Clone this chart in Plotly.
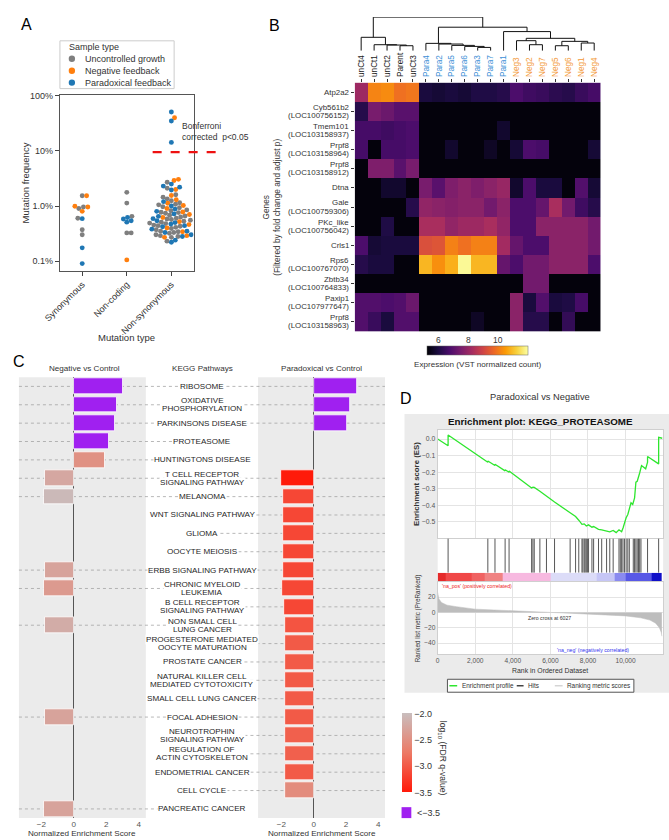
import numpy as np
import plotly.graph_objects as go
from plotly.colors import sample_colorscale

W, H = 669, 840
FONT = "Liberation Sans, Arial, Helvetica, sans-serif"


def px(x):
    return x / W


def py(y):
    return 1 - y / H


# ---------------- Panel A data (mutation frequency, %) ----------------
mutation_types = ["Synonymous", "Non-coding", "Non-synonymous"]
sample_types = ["Uncontrolled growth", "Negative feedback", "Paradoxical feedback"]
sample_colors = ["#7f7f7f", "#ff7f0e", "#1f77b4"]

syn_uncontrolled = [1.54, 0.96, 0.9, 0.6, 0.37, 0.30]
syn_negative = [1.54, 0.99, 0.96, 0.8]
syn_paradoxical = [0.59, 0.174, 0.09]

nc_uncontrolled = [1.77, 1.13, 0.65, 0.325, 0.325]
nc_negative = [0.105]
nc_paradoxical = [0.62, 0.58, 0.54, 0.51]

ns_uncontrolled = [2.7, 2.1, 1.6, 1.45, 1.35, 1.25, 1.15, 1.08, 1.05, 0.97, 0.93, 0.85, 0.82,
                   0.77, 0.76, 0.74, 0.68, 0.66, 0.63, 0.6, 0.58, 0.57, 0.55, 0.53, 0.51, 0.49,
                   0.48, 0.45, 0.44, 0.43, 0.41, 0.39, 0.37, 0.35, 0.34, 0.33, 0.32,
                   0.3, 0.29, 0.28, 0.27, 0.23]
ns_negative = [40, 3.05, 2.9, 2.0, 1.55, 1.3, 1.12, 1.02, 0.9, 0.78, 0.7, 0.62, 0.52, 0.46,
               0.4, 0.34, 0.29, 0.27]
ns_paradoxical = [51, 35, 14.3, 2.5, 2.3, 2.2, 1.95, 1.2, 1.0, 0.88, 0.8, 0.72, 0.65, 0.59,
                  0.54, 0.5, 0.47, 0.44, 0.42, 0.38, 0.35, 0.33, 0.3, 0.28, 0.24, 0.22]

freq_by_type = [
    [syn_uncontrolled, nc_uncontrolled, ns_uncontrolled],
    [syn_negative, nc_negative, ns_negative],
    [syn_paradoxical, nc_paradoxical, ns_paradoxical],
]
bonferroni_threshold = 9.5

# ---------------- Panel B data ----------------
sample_names = ["unCt4", "unCt1", "unCt2", "Parent", "unCt3", "Para4", "Para2", "Para5",
                "Para6", "Para3", "Para7", "Para1", "Neg3", "Neg2", "Neg7", "Neg5", "Neg6",
                "Neg1", "Neg4"]
sample_label_colors = ["#222222"] * 5 + ["#3d8fd6"] * 7 + ["#f39a3a"] * 7
genes = ["Atp2a2", "Cyb561b2<br>(LOC100756152)", "Tmem101<br>(LOC103158937)",
         "Prpf8<br>(LOC103158964)", "Prpf8<br>(LOC103158912)", "Dtna",
         "Gale<br>(LOC100759306)", "PKc_like<br>(LOC100756042)", "Crls1",
         "Rps6<br>(LOC100767070)", "Zbtb34<br>(LOC100764833)", "Paxip1<br>(LOC107977647)",
         "Prpf8<br>(LOC103158963)"]
expression = [
    [8.1, 10.1, 10.2, 9.8, 9.9, 6.0, 5.9, 6.0, 5.9, 6.1, 6.1, 6.2, 6.8, 6.6, 6.5, 6.3, 6.2, 6.5, 6.7],
    [6.2, 7.5, 7.3, 7.0, 7.0, 5.4, 5.4, 5.4, 5.4, 5.4, 5.4, 5.4, 5.4, 5.4, 5.4, 5.4, 5.4, 5.4, 5.4],
    [6.7, 6.7, 6.6, 6.7, 6.8, 5.4, 5.4, 5.4, 5.4, 5.4, 5.4, 5.8, 5.4, 5.4, 5.4, 5.4, 5.4, 5.4, 5.4],
    [6.7, 5.4, 6.7, 6.7, 6.8, 5.4, 5.4, 5.8, 5.4, 5.4, 5.7, 5.4, 5.9, 6.8, 6.7, 5.4, 5.4, 5.4, 5.9],
    [5.4, 7.6, 7.6, 7.0, 7.5, 5.4, 5.4, 5.4, 5.4, 5.4, 5.4, 5.4, 5.4, 5.4, 5.4, 5.4, 5.4, 5.4, 5.4],
    [5.4, 5.4, 5.8, 5.8, 5.4, 7.5, 7.0, 7.6, 7.8, 7.6, 7.8, 8.0, 5.8, 6.8, 6.0, 6.0, 5.4, 6.9, 5.9],
    [5.4, 5.4, 5.4, 5.4, 6.2, 7.9, 7.8, 7.7, 7.8, 7.8, 7.4, 7.8, 6.8, 6.8, 7.2, 8.3, 7.4, 6.6, 6.2],
    [5.4, 5.4, 6.1, 5.4, 5.4, 8.3, 8.3, 7.9, 8.1, 8.1, 8.3, 7.9, 6.8, 6.8, 7.8, 7.8, 7.8, 7.8, 7.4],
    [6.8, 5.9, 6.0, 6.0, 6.0, 9.2, 9.3, 10.05, 9.8, 10.05, 10.05, 8.2, 7.2, 6.8, 6.8, 7.8, 7.8, 7.8, 7.4],
    [6.2, 6.0, 6.0, 5.4, 5.4, 10.8, 10.25, 10.7, 11.8, 10.8, 10.8, 7.2, 6.8, 7.4, 7.4, 7.8, 7.8, 7.8, 6.8],
    [5.4, 5.4, 5.4, 5.4, 5.4, 5.4, 5.4, 5.4, 5.4, 5.4, 5.4, 5.4, 5.4, 7.4, 7.4, 5.4, 5.4, 5.4, 5.4],
    [6.9, 6.9, 6.8, 6.9, 7.3, 5.4, 5.4, 5.4, 5.4, 5.4, 5.4, 5.4, 7.8, 6.0, 6.9, 6.0, 6.1, 6.7, 5.4],
    [6.9, 6.5, 6.0, 6.9, 6.9, 5.4, 5.4, 5.4, 5.4, 5.7, 5.4, 5.4, 7.8, 6.2, 6.2, 5.4, 6.4, 5.4, 5.4],
]
expr_min, expr_max = 5.3, 11.9
expr_ticks = [6, 8, 10]
# hierarchical clustering: [merge height, left, right]
dendro_tree = [100,
               [40, "unCt4", [18, "unCt1", [17, "unCt2", [15, "Parent", "unCt3"]]]],
               [70,
                [22, "Para4", [20, "Para2", [16, "Para5", [13, "Para6", [10, "Para3", "Para7"]]]]],
                [57, "Para1",
                 [37,
                  [30, "Neg3", [18, "Neg2", "Neg7"]],
                  [28, [15, "Neg5", "Neg6"], [23, "Neg1", "Neg4"]]]]]]

# ---------------- Panel C data ----------------
pathways = ["RIBOSOME", "OXIDATIVE<br>PHOSPHORYLATION", "PARKINSONS DISEASE", "PROTEASOME",
            "HUNTINGTONS DISEASE", "T CELL RECEPTOR<br>SIGNALING PATHWAY", "MELANOMA",
            "WNT SIGNALING PATHWAY", "GLIOMA", "OOCYTE MEIOSIS", "ERBB SIGNALING PATHWAY",
            "CHRONIC MYELOID<br>LEUKEMIA", "B CELL RECEPTOR<br>SIGNALING PATHWAY",
            "NON SMALL CELL<br>LUNG CANCER", "PROGESTERONE MEDIATED<br>OOCYTE MATURATION",
            "PROSTATE CANCER", "NATURAL KILLER CELL<br>MEDIATED CYTOTOXICITY",
            "SMALL CELL LUNG CANCER", "FOCAL ADHESION", "NEUROTROPHIN<br>SIGNALING PATHWAY",
            "REGULATION OF<br>ACTIN CYTOSKELETON", "ENDOMETRIAL CANCER", "CELL CYCLE",
            "PANCREATIC CANCER"]
neg_nes = [3.05, 2.64, 2.55, 2.16, 1.9, -1.76, -1.84, None, None, None, -1.8, -1.86, None,
           -1.76, None, None, None, None, -1.8, None, None, None, None, -1.86]
neg_fdr = [-4.0, -4.0, -4.0, -4.0, -2.5, -2.25, -2.05, None, None, None, -2.3, -2.4, None,
           -2.2, None, None, None, None, -2.3, None, None, None, None, -2.3]
para_nes = [2.68, 2.27, 2.1, None, None, -2.0, -1.92, -1.92, -1.92, -1.92, -1.92, -1.95, -1.86,
            -1.8, -1.8, -1.8, -1.8, -1.8, -1.79, -1.8, -1.8, -1.79, -1.8, None]
para_fdr = [-4.0, -4.0, -4.0, None, None, -3.5, -3.15, -3.15, -3.15, -3.15, -3.15, -3.15, -3.15,
            -3.05, -3.0, -3.0, -3.0, -3.0, -3.0, -2.95, -2.95, -3.0, -2.55, None]
fdr_ticks = [-2.0, -2.5, -3.0, -3.5]
fdr_scale = [[0, "#ff1a0a"], [0.5, "#ec7a66"], [1, "#c9bebe"]]
sig_color = "#a020f0"

# ---------------- Panel D data ----------------
es_rank = [0, 555, 555, 2670, 2670, 3050, 3050, 3590, 3590, 3800, 3800, 5000, 5070, 5140,
           5440, 5790, 6220, 7050, 7340, 7510, 7680, 7800, 7910, 8030, 8210, 8300, 8560, 8730,
           8990, 9160, 9340, 9500, 9650, 9790, 9870, 9940, 10030, 10120, 10200, 10290, 10380,
           10480, 10550, 10620, 10750, 10850, 11070, 11170, 11170, 11760, 11760, 11950]
es_score = [0.0, -0.04, 0.025, -0.14, -0.132, -0.16, -0.152, -0.192, -0.185, -0.2, -0.193,
            -0.295, -0.29, -0.292, -0.315, -0.345, -0.38, -0.445, -0.468, -0.49, -0.515,
            -0.512, -0.525, -0.518, -0.532, -0.528, -0.545, -0.548, -0.555, -0.56, -0.552,
            -0.565, -0.548, -0.56, -0.535, -0.505, -0.475, -0.455, -0.415, -0.385, -0.395,
            -0.355, -0.26, -0.255, -0.205, -0.16, -0.18, -0.14, -0.105, -0.15, 0.01, 0.005]
hit_ranks = [555, 2670, 3050, 3590, 3800, 5000, 5070, 5140, 5440, 5790, 6220, 7050, 7340,
             7510, 7680, 7730, 7800, 7850, 7910, 7970, 8030, 8210, 8300, 8560, 8730, 8990,
             9160, 9340, 9650, 9720, 9790, 9860, 9940, 10030, 10120, 10200, 10410, 10480,
             10550, 10620, 10690, 10750, 10820, 11170, 11760]
metric_rank = [0, 60, 200, 500, 1000, 1500, 2000, 3000, 4000, 5000, 6027, 7000, 8000, 9000,
               10000, 10800, 11300, 11600, 11800, 11900, 11930]
metric_value = [26, 18, 13, 9.5, 7.5, 5.5, 4.3, 3.2, 2.4, 1.2, 0, -1, -2, -3, -4.5, -7, -10,
                -14, -20, -26, -31]
strip_edges = [0, 415, 1800, 2490, 3450, 6040, 8470, 9420, 10030, 11410, 11930]
strip_colors = ["#e52a2a", "#f04848", "#f06262", "#f08282", "#f7b9e0", "#dcdcf8", "#c6c6f6",
                "#8a8af0", "#5858e6", "#1010c8"]
gsea_legend = ["Enrichment profile", "Hits", "Ranking metric scores"]
gsea_colors = ["#2ee62e", "#444444", "#d5d5d5"]


# ---------------- helpers ----------------
def swarm_offsets(vals, px_per_x, px_per_dec, d):
    ys = np.log10(np.asarray(vals, float)) * px_per_dec
    order = np.argsort(ys, kind="stable")
    pxs, pys = [], []
    off = np.zeros(len(ys))
    for n, i in enumerate(order):
        y = ys[i]
        k = 0
        found = None
        sign = 1 if n % 2 == 0 else -1
        while found is None:
            cands = [0.0] if k == 0 else [sign * k * 0.25, -sign * k * 0.25]
            for c in cands:
                if all((c - a) ** 2 + (y - b) ** 2 >= d * d for a, b in zip(pxs, pys)):
                    found = c
                    break
            k += 1
        pxs.append(found)
        pys.append(y)
        off[i] = found / px_per_x
    return off


def fdr_color(f):
    if f is None:
        return "rgba(0,0,0,0)"
    if f < -3.5:
        return sig_color
    t = min(max((f + 3.5) / 1.5, 0), 1)
    return sample_colorscale(fdr_scale, [t])[0]


fig = go.Figure()

# ---------------- Panel A ----------------
A_x0, A_x1, A_y0, A_y1 = 45, 182, 91, 268
px_per_x = (A_x1 - A_x0) / 3
px_per_dec = 55.33
pts = {t: ([], []) for t in range(3)}
for c in range(3):
    vals, types = [], []
    for t in range(3):
        vals += freq_by_type[t][c]
        types += [t] * len(freq_by_type[t][c])
    offs = swarm_offsets(vals, px_per_x, px_per_dec, 4.5)
    for v, t, o in zip(vals, types, offs):
        pts[t][0].append(c + o)
        pts[t][1].append(v)
for t in range(3):
    fig.add_trace(go.Scatter(x=pts[t][0], y=pts[t][1], mode="markers", name=sample_types[t],
                             marker=dict(color=sample_colors[t], size=4.9, line=dict(width=0)),
                             xaxis="x", yaxis="y", showlegend=False))

# ---------------- Panel B ----------------
fig.add_trace(go.Heatmap(z=expression, x=list(range(len(sample_names))), y=list(range(len(genes))),
                         colorscale="Inferno", zmin=expr_min, zmax=expr_max, xaxis="x2", yaxis="y2",
                         colorbar=dict(orientation="h", x=px(472.5), xanchor="center", y=py(344),
                                       yanchor="top", len=101, lenmode="pixels", thickness=9,
                                       xpad=0, ypad=0, showticklabels=False, ticks="",
                                       outlinewidth=0.5, outlinecolor="#666")))

leaf_pos = {n: i for i, n in enumerate(sample_names)}
dx, dy = [], []


def walk(node):
    if isinstance(node, str):
        return leaf_pos[node], 0
    h, l, r = node
    xl, hl = walk(l)
    xr, hr = walk(r)
    dx.extend([xl, xl, xr, xr, None])
    dy.extend([hl, h, h, hr, None])
    return (xl + xr) / 2, h


walk(dendro_tree)
fig.add_trace(go.Scatter(x=dx, y=dy, mode="lines", line=dict(color="#111", width=1),
                         xaxis="x3", yaxis="y3", showlegend=False, hoverinfo="skip"))

# ---------------- Panel C ----------------
idx = list(range(len(pathways)))
fig.add_trace(go.Bar(y=idx, x=neg_nes, orientation="h", width=0.86,
                     marker=dict(color=[fdr_color(f) for f in neg_fdr], line=dict(color="white", width=0.8)),
                     xaxis="x4", yaxis="y4", showlegend=False))
fig.add_trace(go.Bar(y=idx, x=para_nes, orientation="h", width=0.86,
                     marker=dict(color=[fdr_color(f) for f in para_fdr], line=dict(color="white", width=0.8)),
                     xaxis="x5", yaxis="y5", showlegend=False))
fig.add_trace(go.Scatter(x=[None], y=[None], mode="markers", showlegend=False, xaxis="x4", yaxis="y4",
                         marker=dict(color=[-3.0], colorscale=fdr_scale, cmin=-3.5, cmax=-2.0,
                                     showscale=True,
                                     colorbar=dict(x=px(395), xanchor="left", y=py(752.5), yanchor="middle",
                                                   len=79, lenmode="pixels", thickness=10, xpad=0, ypad=0,
                                                   outlinewidth=0, ticks="", tickvals=fdr_ticks,
                                                   ticktext=[("%.1f" % v).replace("-", "\u2212") for v in fdr_ticks],
                                                   tickfont=dict(size=9, color="#333")))))

# ---------------- Panel D ----------------
fig.add_trace(go.Scatter(x=metric_rank, y=metric_value, mode="lines", fill="tozeroy",
                         fillcolor="#bdbdbd", line=dict(color="#bdbdbd", width=0.5),
                         xaxis="x9", yaxis="y9", showlegend=False, hoverinfo="skip"))
hx, hy = [], []
for h in hit_ranks:
    hx += [h, h, None]
    hy += [0, 1, None]
fig.add_trace(go.Scatter(x=hx, y=hy, mode="lines", line=dict(color="#444", width=0.9),
                         xaxis="x7", yaxis="y7", showlegend=False, hoverinfo="skip"))
n_strip = len(strip_colors)
fig.add_trace(go.Heatmap(x=strip_edges, y=[0], z=[list(range(n_strip))], zmin=0, zmax=n_strip - 1,
                         colorscale=[[i / (n_strip - 1), c] for i, c in enumerate(strip_colors)],
                         showscale=False, xaxis="x8", yaxis="y8", hoverinfo="skip"))
fig.add_trace(go.Scatter(x=es_rank, y=es_score, mode="lines", line=dict(color=gsea_colors[0], width=1.3),
                         xaxis="x6", yaxis="y6", showlegend=False, hoverinfo="skip"))

# ---------------- shapes ----------------
shapes = []
for ax in ["x4", "x5"]:
    yax = "y" + ax[1:]
    shapes.append(dict(type="rect", xref=ax + " domain", yref=yax + " domain", x0=0, x1=1, y0=0, y1=1,
                       fillcolor="#ebebeb", line=dict(width=0), layer="below"))
for i in idx:
    if neg_nes[i] is not None:
        shapes.append(dict(type="line", xref="paper", yref="y4", x0=px(3), x1=px(191), y0=i, y1=i,
                           line=dict(color="#9a9a9a", width=0.7, dash="dot"), layer="below"))
    if para_nes[i] is not None:
        shapes.append(dict(type="line", xref="paper", yref="y5", x0=px(191), x1=px(378), y0=i, y1=i,
                           line=dict(color="#9a9a9a", width=0.7, dash="dot"), layer="below"))
# bonferroni line
shapes.append(dict(type="line", xref="paper", yref="y", x0=px(140), x1=px(213),
                   y0=bonferroni_threshold, y1=bonferroni_threshold,
                   line=dict(color="#ee1111", width=2.2, dash="dash")))
# panel D background
shapes.append(dict(type="rect", xref="paper", yref="paper", x0=px(398), x1=px(669), y0=py(692), y1=py(412),
                   fillcolor="#ebebeb", line=dict(width=0), layer="below"))
shapes.append(dict(type="rect", xref="paper", yref="paper", x0=px(432), x1=px(663), y0=py(653), y1=py(428),
                   fillcolor="white", line=dict(width=0), layer="below"))
# FDR "<-3.5" key
shapes.append(dict(type="rect", xref="paper", yref="paper", x0=px(395), x1=px(405), y0=py(818), y1=py(807),
                   fillcolor=sig_color, line=dict(width=0)))
# legend A box and markers
shapes.append(dict(type="rect", xref="paper", yref="paper", x0=px(45), x1=px(162), y0=py(85), y1=py(37),
                   fillcolor="white", line=dict(color="#cccccc", width=1)))
for k in range(3):
    yc = 55 + 12 * k
    shapes.append(dict(type="circle", xref="paper", yref="paper", x0=px(54), x1=px(60.5),
                       y0=py(yc + 3.25), y1=py(yc - 3.25), fillcolor=sample_colors[k], line=dict(width=0)))
# legend D box and keys
shapes.append(dict(type="rect", xref="paper", yref="paper", x0=px(442), x1=px(633), y0=py(691.5), y1=py(678.5),
                   fillcolor="white", line=dict(color="#555", width=1)))
legend_d_x = [(444, 452), (513, 520), (552, 560)]
for (a, b), col in zip(legend_d_x, gsea_colors):
    shapes.append(dict(type="line", xref="paper", yref="paper", x0=px(a), x1=px(b), y0=py(685), y1=py(685),
                       line=dict(color=col, width=1.5)))

# ---------------- annotations ----------------
anns = []


def ann(text, x, y, size=9, color="#333", xanchor="center", yanchor="middle", **kw):
    d = dict(text=text, x=x, y=y, xref=kw.pop("xref", "paper"), yref=kw.pop("yref", "paper"),
             showarrow=False, font=dict(size=size, color=color, family=FONT),
             xanchor=xanchor, yanchor=yanchor)
    d.update(kw)
    anns.append(d)


def ann_lines(text, x, y, spacing, **kw):
    lines = text.split("<br>")
    n = len(lines)
    for j, line in enumerate(lines):
        ann(line, x, y, yshift=((n - 1) / 2 - j) * spacing, **kw)


ann("A", px(3), py(10), size=16, color="#000", xanchor="left", yanchor="top")
ann("Sample type", px(52), py(43.5), size=9, xanchor="left")
for k in range(3):
    ann(sample_types[k], px(69), py(55 + 12 * k), size=9, xanchor="left")
ann("Mutation frequency", px(10), py((A_y0 + A_y1) / 2), size=9.5, textangle=-90)
ann("Mutation type", px(113), py(335), size=9.5)
ann("Bonferroni<br>corrected  p<0.05", px(168), py(128), size=8.5, xanchor="left", align="left")

ann("B", px(257), py(11), size=16, color="#000", xanchor="left", yanchor="top")
ann("Genes<br>(Filtered by fold change and adjust p)", px(261), py(204), size=8.3, textangle=-90)
for i, g in enumerate(genes):
    ann_lines(g, px(343), i, 8.2, yref="y2", size=7.9, xanchor="right")
for v in expr_ticks:
    ann(str(v), px(422 + (v - expr_min) / (expr_max - expr_min) * 101), py(337.5), size=8.5)
ann("Expression (VST normalized count)", px(472.5), py(362), size=8.1)

ann("C", px(-5), py(349), size=16, color="#000", xanchor="left", yanchor="top")
ann("Negative vs Control", px(70), py(366), size=8.1)
ann("KEGG Pathways", px(191), py(366), size=8.1)
ann("Paradoxical vs Control", px(313), py(366), size=8.1)
ann("Normalized Enrichment Score", px(68), py(840), size=8.1, yanchor="bottom")
ann("Normalized Enrichment Score", px(313), py(840), size=8.1, yanchor="bottom")
for i, p in enumerate(pathways):
    ann_lines(p, px(191), i, 8.3, yref="y4", size=8.1, color="#262626", bgcolor="white", borderpad=0)
ann("log<sub>10</sub> (FDR q-value)", px(437), py(758), size=8.6, textangle=90)
ann("<\u22123.5", px(409), py(812.5), size=9, xanchor="left")

ann("D", px(391), py(386), size=16, color="#000", xanchor="left", yanchor="top")
ann("Paradoxical vs Negative", px(537), py(395), size=9.3)
ann("<b>Enrichment plot: KEGG_PROTEASOME</b>", px(537), py(419.5), size=9.8, color="#111")
ann("<b>Enrichment score (ES)</b>", px(411), py(482), size=7.8, textangle=-90)
ann("Ranked list metric (PreRanked)", px(412), py(617), size=6.3, textangle=-90)
ann("Rank in Ordered Dataset", px(547), py(669.5), size=6.9)
ann("'na_pos' (positively correlated)", px(434), py(585), size=5.2, color="#ee2222", xanchor="left")
ann("Zero cross at 6027", px(547), py(617), size=5.2, color="#333")
ann("'na_neg' (negatively correlated)", px(591), py(649), size=5.2, color="#3333ee")
for (a, b), name in zip(legend_d_x, gsea_legend):
    ann(name, px(b + 2.5), py(685), size=6.4, xanchor="left")

# ---------------- axes ----------------
axis_common = dict(showgrid=False, zeroline=False)
lay = dict(
    width=W, height=H, margin=dict(l=0, r=0, t=0, b=0), paper_bgcolor="white",
    plot_bgcolor="rgba(0,0,0,0)", font=dict(family=FONT, size=9, color="#333"),
    shapes=shapes, annotations=anns, bargap=0, showlegend=False,
    # A
    xaxis=dict(domain=[px(A_x0), px(A_x1)], range=[-0.5, 2.5], tickvals=[0, 1, 2], ticktext=mutation_types,
               tickangle=-45, ticks="outside", ticklen=4, tickcolor="#444", showline=True, mirror=True,
               linecolor="#555", linewidth=1, anchor="y", tickfont=dict(size=9), **axis_common),
    yaxis=dict(domain=[py(A_y1), py(A_y0)], type="log", range=[-1.175, 2.024], tickvals=[0.1, 1, 10, 100],
               ticktext=["0.1%", "1.0%", "10%", "100%"], ticks="outside", ticklen=4, tickcolor="#444",
               showline=True, mirror=True, linecolor="#555", linewidth=1, anchor="x",
               tickfont=dict(size=9), **axis_common),
    # B heatmap
    xaxis2=dict(domain=[px(347), px(599)], range=[-0.5, 18.5], side="top", anchor="y2",
                tickvals=list(range(len(sample_names))),
                ticktext=["<span style='color:%s'>%s</span>" % (c, n) for n, c in zip(sample_names, sample_label_colors)],
                tickangle=-90, ticks="outside", ticklen=3, tickcolor="#333", tickfont=dict(size=8.2),
                **axis_common),
    yaxis2=dict(domain=[py(329), py(79)], range=[len(genes) - 0.5, -0.5], anchor="x2",
                tickvals=list(range(len(genes))), showticklabels=False, ticks="outside", ticklen=3,
                tickcolor="#333", **axis_common),
    xaxis3=dict(domain=[px(347), px(599)], range=[-0.5, 18.5], visible=False, anchor="y3"),
    yaxis3=dict(domain=[py(47), py(13)], range=[0, 100.5], visible=False, anchor="x3"),
    # C
    xaxis4=dict(domain=[px(3), px(133)], range=[-3.39, 4.44], tickvals=[-2, 0, 2, 4], anchor="y4",
                showgrid=False, zeroline=True, zerolinecolor="#555", zerolinewidth=1,
                tickfont=dict(size=8.1, color="#555"), ticks=""),
    yaxis4=dict(domain=[py(818), py(375)], range=[len(pathways) - 0.5, -0.5], visible=False, anchor="x4"),
    xaxis5=dict(domain=[px(248), px(378)], range=[-3.45, 4.42], tickvals=[-2, 0, 2, 4], anchor="y5",
                showgrid=False, zeroline=True, zerolinecolor="#555", zerolinewidth=1,
                tickfont=dict(size=8.1, color="#555"), ticks=""),
    yaxis5=dict(domain=[py(818), py(375)], range=[len(pathways) - 0.5, -0.5], visible=False, anchor="x5"),
    # D
    xaxis6=dict(domain=[px(432), px(663)], range=[0, 12000], anchor="y6", showticklabels=False,
                showgrid=True, gridcolor="#e4e4e4", dtick=2000, zeroline=False, showline=True,
                linecolor="#cfcfcf", mirror=True, ticks=""),
    yaxis6=dict(domain=[py(537), py(428)], range=[-0.6, 0.055], anchor="x6",
                tickvals=[0, -0.1, -0.2, -0.3, -0.4, -0.5], tickformat=".1f",
                showgrid=True, gridcolor="#e4e4e4", zeroline=False, tickfont=dict(size=6.8, color="#555"),
                showline=True, linecolor="#cfcfcf", mirror=True, ticks=""),
    xaxis7=dict(domain=[px(432), px(663)], range=[0, 12000], anchor="y7", visible=False),
    yaxis7=dict(domain=[py(571.5), py(537)], range=[0, 1], anchor="x7", visible=False),
    xaxis8=dict(domain=[px(432), px(663)], range=[0, 12000], anchor="y8", visible=False),
    yaxis8=dict(domain=[py(580.5), py(571.5)], range=[-0.5, 0.5], anchor="x8", visible=False),
    xaxis9=dict(domain=[px(432), px(663)], range=[0, 12000], anchor="y9", tickvals=list(range(0, 12001, 2000)),
                tickformat=",", showgrid=True, gridcolor="#e4e4e4", zeroline=False,
                tickfont=dict(size=6.6, color="#555"), ticks="", showline=True, linecolor="#cfcfcf", mirror=True),
    yaxis9=dict(domain=[py(653), py(580.5)], range=[-54, 40], anchor="x9", tickvals=[-40, -20, 0, 20],
                showgrid=True, gridcolor="#e4e4e4", zeroline=False, tickfont=dict(size=6.6, color="#555"),
                ticks="", showline=True, linecolor="#cfcfcf", mirror=True),
)
fig.update_layout(**lay)
fig.write_html("out.html")
